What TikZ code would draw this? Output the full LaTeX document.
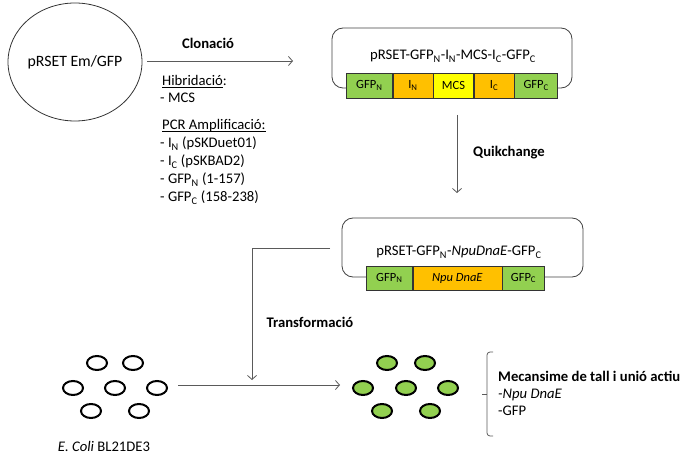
\documentclass[tikz,border=0pt]{standalone}
\usepackage{fontspec}
\setmainfont{Carlito}
\usetikzlibrary{arrows.meta,shapes.geometric}
\definecolor{gfpgreen}{HTML}{92D050}
\definecolor{intorange}{HTML}{FFC000}
\definecolor{mcsyellow}{HTML}{FFFF00}
\definecolor{linegray}{HTML}{5A5A5A}
% underline at a fixed depth below the baseline
\newcommand{\undl}[1]{\setbox0\hbox{#1}\rlap{\copy0}\rule[-2.3pt]{\wd0}{0.8pt}}

\begin{document}
\begin{tikzpicture}[x=1pt,y=-1pt,
  txt/.style={font=\fontsize{14.67}{17}\selectfont, inner sep=0pt},
  lbl/.style={font=\fontsize{14.67}{17}\selectfont\bfseries, inner sep=0pt},
  arr/.style={draw=linegray, line width=0.8pt, -{Straight Barb[length=4pt,width=9pt]}},
  conn/.style={draw=linegray, line width=0.8pt},
  plasmid/.style={draw=black!75, line width=0.8pt, rounded corners=11pt},
  seg/.style={draw=black!80, line width=0.6pt, inner sep=0pt, anchor=west,
    font=\fontsize{12.5}{14}\selectfont},
  cell/.style={ellipse, draw=black, line width=2pt, minimum width=20pt,
    minimum height=14pt, inner sep=0pt},
]
\useasboundingbox (0,0) rectangle (688,454);

% starting vector
\node[ellipse, draw=black!80, line width=0.8pt, minimum width=127pt,
  minimum height=118pt, inner sep=0pt, font=\fontsize{15.8}{18}\selectfont]
  (em) at (75,62) {pRSET Em/GFP};

% cloning step
\coordinate (c1s) at (147,61);
\coordinate (c1e) at (293,61);
\draw[arr] (c1s) -- (c1e);
\node[lbl] (clon) at (208,43) {Clonació};

\node[txt, anchor=base west] (h1) at (162,86) {\undl{Hibridació}:};
\node[txt, anchor=base west] (h2) at (160,103) {- MCS};
\node[txt, anchor=base west] (h3) at (162,130) {\undl{PCR Amplificació:}};
\node[txt, anchor=base west] (h4) at (160,148) {- I\textsubscript{N} (pSKDuet01)};
\node[txt, anchor=base west] (h5) at (160,166) {- I\textsubscript{C} (pSKBAD2)};
\node[txt, anchor=base west] (h6) at (160,184) {- GFP\textsubscript{N} (1-157)};
\node[txt, anchor=base west] (h7) at (160,202) {- GFP\textsubscript{C} (158-238)};

% first construct
\node[plasmid, minimum width=240pt, minimum height=60pt] (p1) at (452,58) {};
\node[txt, anchor=base] (p1t) at (453,60)
  {pRSET-GFP\textsubscript{N}-I\textsubscript{N}-MCS-I\textsubscript{C}-GFP\textsubscript{C}};
\begin{scope}[every node/.style={seg, minimum height=25pt}]
  \node[fill=gfpgreen, minimum width=46pt] (a1) at (346,85.5) {GFP\textsubscript{N}};
  \node[fill=intorange, minimum width=40pt] (a2) at (a1.east) {I\textsubscript{N}};
  \node[fill=mcsyellow, minimum width=40pt] (a3) at (a2.east) {MCS};
  \node[fill=intorange, minimum width=40pt] (a4) at (a3.east) {I\textsubscript{C}};
  \node[fill=gfpgreen, minimum width=43pt] (a5) at (a4.east) {GFP\textsubscript{C}};
\end{scope}

% site-directed mutagenesis
\coordinate (q1s) at (457,115);
\coordinate (q1e) at (457,193);
\draw[arr] (q1s) -- (q1e);
\node[lbl] (quik) at (509,153) {Quikchange};

% second construct
\node[plasmid, minimum width=241pt, minimum height=59pt] (p2) at (462.5,247.5) {};
\node[txt, anchor=base] (p2t) at (459,256)
  {pRSET-GFP\textsubscript{N}-\textit{NpuDnaE}-GFP\textsubscript{C}};
\begin{scope}[every node/.style={seg, minimum height=24pt}]
  \node[fill=gfpgreen, minimum width=46pt] (b1) at (366,278) {GFP\textsubscript{N}};
  \node[fill=intorange, minimum width=89pt] (b2) at (b1.east) {\textit{Npu DnaE}};
  \node[fill=gfpgreen, minimum width=42pt] (b3) at (b2.east) {GFP\textsubscript{C}};
\end{scope}

% transformation
\coordinate (t0) at (330,248);
\coordinate (t1) at (252,248);
\coordinate (t2) at (252,380);
\draw[arr] (t0) -- (t1) -- (t2);
\node[lbl] (trans) at (310,322) {Transformació};

\coordinate (e0) at (178,385);
\coordinate (e1) at (340,385);
\draw[arr] (e0) -- (e1);

% host cells
\foreach \n/\x/\y in {1/97/363, 2/133/363, 3/73/388, 4/115/388, 5/157/388, 6/91/411, 7/139/411}
  \node[cell, fill=white] (w\n) at (\x,\y) {};
\node[txt, anchor=base] (ecoli) at (104,451) {\textit{E. Coli} BL21DE3};

% expressing cells
\foreach \n/\x/\y in {1/387/363, 2/425/363, 3/363/388, 4/406/388, 5/448/388, 6/382/411, 7/430/411}
  \node[cell, fill=gfpgreen] (g\n) at (\x,\y) {};

% result bracket and notes
\draw[conn, rounded corners=3pt] (493,352) -- (487,352) -- (487,436) -- (493,436);
\draw[conn] (482,394) -- (487,394);
\node[lbl, anchor=base west] (r1) at (498,381) {Mecansime de tall i unió actiu};
\node[txt, anchor=base west] (r2) at (498,398) {\textit{-Npu DnaE}};
\node[txt, anchor=base west] (r3) at (498,415) {-GFP};
\end{tikzpicture}
\end{document}
